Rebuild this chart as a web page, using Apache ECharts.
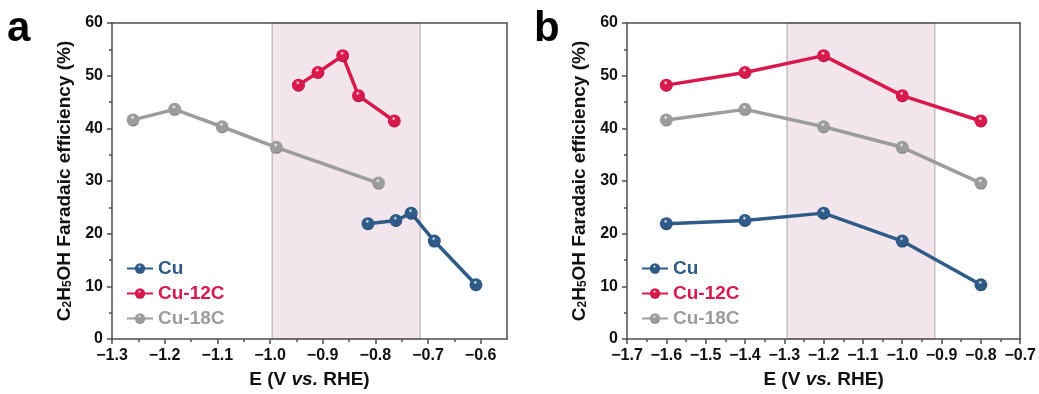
<!DOCTYPE html>
<html>
<head>
<meta charset="utf-8">
<script src="https://cdn.jsdelivr.net/npm/echarts@6/dist/echarts.min.js"></script>
<style>
  html, body { margin: 0; padding: 0; background: #fff; }
  #chart { width: 1039px; height: 394px; }
</style>
</head>
<body>
<div id="chart"></div>
<script>
// Ethanol Faradaic efficiency for three catalysts
const seriesNames = ['Cu', 'Cu-12C', 'Cu-18C'];
const feCu = [21.9, 22.5, 23.9, 18.6, 10.3];
const feCu12C = [48.2, 50.6, 53.8, 46.2, 41.4];
const feCu18C = [41.6, 43.6, 40.3, 36.4, 29.6];

// Panel a: iR-corrected potentials (V vs. RHE)
const potACu = [-0.814, -0.761, -0.732, -0.688, -0.609];
const potACu12C = [-0.946, -0.909, -0.862, -0.832, -0.764];
const potACu18C = [-1.260, -1.181, -1.091, -0.988, -0.794];
// Panel b: applied potentials (V vs. RHE)
const potB = [-1.6, -1.4, -1.2, -1.0, -0.8];

// Highlighted potential windows
const windowA = [-0.996, -0.715];
const windowB = [-1.293, -0.917];

// Tick labels
const xTicksA = [-1.3, -1.2, -1.1, -1.0, -0.9, -0.8, -0.7, -0.6];
const xTicksB = [-1.7, -1.6, -1.5, -1.4, -1.3, -1.2, -1.1, -1.0, -0.9, -0.8, -0.7];
const yTicks = [0, 10, 20, 30, 40, 50, 60];

const colors = { 'Cu': '#2f5b88', 'Cu-12C': '#d8194e', 'Cu-18C': '#9c9c9c' };
const dark = { 'Cu': '#1d3b5c', 'Cu-12C': '#9c0f35', 'Cu-18C': '#6e6e6e' };
const FONT = 'Liberation Sans';
const AXIS = '#4d4d4d';

function midpoints(t) {
  const out = [];
  for (let i = 0; i < t.length - 1; i++) out.push(+((t[i] + t[i + 1]) / 2).toFixed(3));
  return out;
}
const fmt = v => (v < 0 ? '\u2212' : '') + Math.abs(v).toFixed(1);

function ball(name) {
  return {
    type: 'radial', x: 0.45, y: 0.32, r: 0.7,
    colorStops: [
      { offset: 0, color: '#ffffff' },
      { offset: 0.22, color: colors[name] },
      { offset: 0.8, color: colors[name] },
      { offset: 1, color: dark[name] }
    ]
  };
}

const grids = [
  { left: 112, top: 23, width: 395, height: 318 },
  { left: 627, top: 23, width: 395, height: 318 }
];

function xAxesFor(gi, min, max, ticks) {
  return [
    {
      type: 'value', gridIndex: gi, position: 'bottom', min, max, z: 5,
      axisLine: { show: true, lineStyle: { color: AXIS, width: 1.5 } },
      axisTick: { show: true, length: 5, customValues: ticks, lineStyle: { color: AXIS, width: 1.5 } },
      axisLabel: { customValues: ticks, formatter: fmt, margin: 9, color: '#111',
        fontFamily: FONT, fontWeight: 'bold', fontSize: 16 },
      splitLine: { show: false },
      name: '{t|E (V }{i|vs.}{t| RHE)}', nameLocation: 'middle', nameGap: 31,
      nameTextStyle: { rich: {
        t: { fontFamily: FONT, fontWeight: 'bold', fontSize: 19, color: '#111' },
        i: { fontFamily: FONT, fontWeight: 'bold', fontStyle: 'italic', fontSize: 19, color: '#111' }
      } }
    },
    {
      type: 'value', gridIndex: gi, position: 'bottom', min, max, z: 5,
      axisLine: { show: false },
      axisTick: { show: true, length: 3, customValues: midpoints(ticks), lineStyle: { color: AXIS, width: 1.5 } },
      axisLabel: { show: false }, splitLine: { show: false }
    },
    {
      type: 'value', gridIndex: gi, position: 'top', min, max, z: 5,
      axisLine: { show: true, lineStyle: { color: AXIS, width: 1.5 } },
      axisTick: { show: false }, axisLabel: { show: false }, splitLine: { show: false }
    }
  ];
}

function yAxesFor(gi) {
  return [
    {
      type: 'value', gridIndex: gi, position: 'left', min: yTicks[0], max: yTicks[yTicks.length - 1],
      interval: 10, z: 5,
      axisLine: { show: true, lineStyle: { color: AXIS, width: 1.5 } },
      axisTick: { show: true, length: 5, lineStyle: { color: AXIS, width: 1.5 } },
      minorTick: { show: true, splitNumber: 2, length: 3, lineStyle: { color: AXIS, width: 1.5 } },
      axisLabel: { margin: 9, color: '#111', fontFamily: FONT, fontWeight: 'bold', fontSize: 16 },
      splitLine: { show: false },
      name: '{t|C}{s|2}{t|H}{s|5}{t|OH Faradaic efficiency (%)}',
      nameLocation: 'middle', nameGap: 38,
      nameTextStyle: { rich: {
        t: { fontFamily: FONT, fontWeight: 'bold', fontSize: 19, color: '#111', lineHeight: 22, verticalAlign: 'bottom' },
        s: { fontFamily: FONT, fontWeight: 'bold', fontSize: 12, color: '#111', lineHeight: 22, verticalAlign: 'bottom' }
      } }
    },
    {
      type: 'value', gridIndex: gi, position: 'right', min: 0, max: 60, z: 5,
      axisLine: { show: true, lineStyle: { color: AXIS, width: 1.5 } },
      axisTick: { show: false }, axisLabel: { show: false }, splitLine: { show: false }
    }
  ];
}

function lineSeries(name, xs, ys, xi, yi, win) {
  const s = {
    type: 'line', name, xAxisIndex: xi, yAxisIndex: yi,
    data: xs.map((x, i) => [x, ys[i]]),
    symbol: 'circle', symbolSize: 13,
    lineStyle: { color: colors[name], width: 3.5 },
    itemStyle: { color: ball(name) },
    emphasis: { disabled: true },
    z: 3
  };
  if (win) {
    s.markArea = {
      silent: true, z: 1,
      itemStyle: { color: '#f2e6ec', borderColor: '#a9a9a9', borderWidth: 1 },
      data: [[{ xAxis: win[0] }, { xAxis: win[1] }]]
    };
  }
  return s;
}

function legendAt(left) {
  return {
    orient: 'vertical', left, top: 259, padding: 0,
    itemWidth: 26, itemHeight: 13, itemGap: 6, selectedMode: false,
    textStyle: { fontFamily: FONT, fontWeight: 'bold', fontSize: 19, lineHeight: 19 },
    data: seriesNames.map(n => ({ name: n, textStyle: { color: colors[n] } }))
  };
}

const option = {
  animation: false,
  backgroundColor: '#fff',
  grid: grids,
  xAxis: [
    ...xAxesFor(0, -1.3, -0.55, xTicksA),
    ...xAxesFor(1, -1.7, -0.7, xTicksB)
  ],
  yAxis: [...yAxesFor(0), ...yAxesFor(1)],
  legend: [legendAt(126), legendAt(641)],
  series: [
    lineSeries('Cu-18C', potACu18C, feCu18C, 0, 0, windowA),
    lineSeries('Cu-12C', potACu12C, feCu12C, 0, 0),
    lineSeries('Cu', potACu, feCu, 0, 0),
    lineSeries('Cu-18C', potB, feCu18C, 3, 2, windowB),
    lineSeries('Cu-12C', potB, feCu12C, 3, 2),
    lineSeries('Cu', potB, feCu, 3, 2)
  ],
  graphic: [
    { type: 'text', left: 7, top: 8, style: { text: 'a', font: 'bold 42px "Liberation Sans"', fill: '#000' } },
    { type: 'text', left: 534, top: 8, style: { text: 'b', font: 'bold 42px "Liberation Sans"', fill: '#000' } }
  ]
};

const chart = echarts.init(document.getElementById('chart'), null, { renderer: 'canvas' });
chart.setOption(option);
</script>
</body>
</html>
